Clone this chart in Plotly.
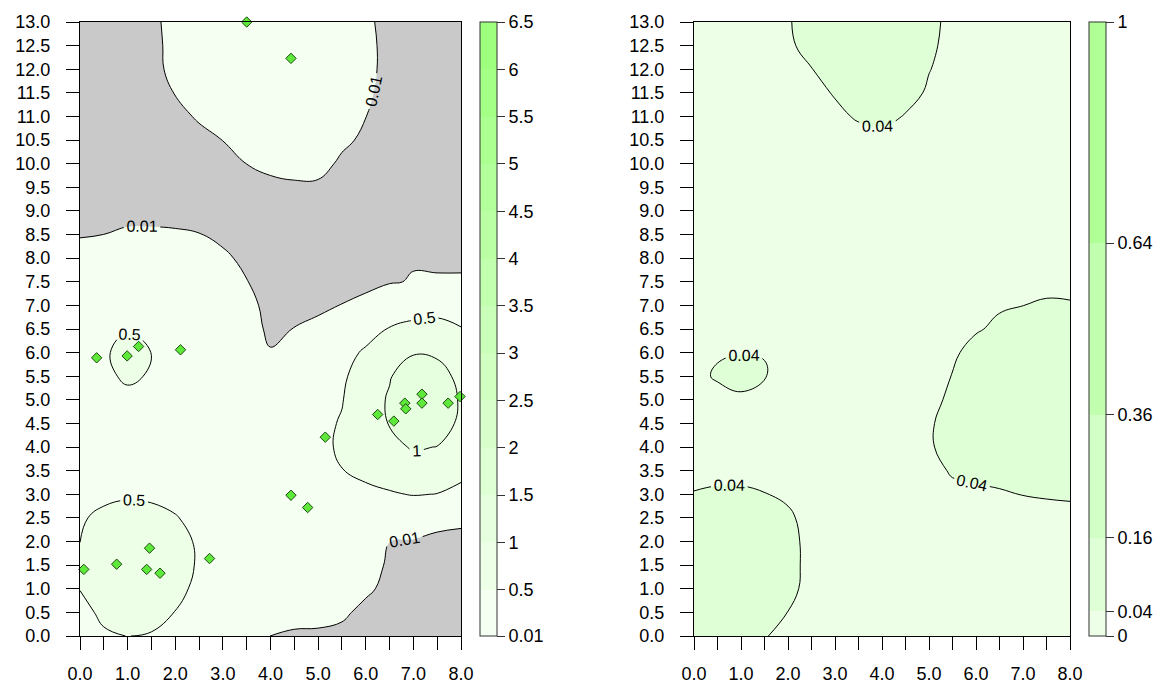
import plotly.graph_objects as go

# ---------------- data ----------------
x_grid = [0.0, 0.5, 1.0, 1.5, 2.0, 2.5, 3.0, 3.5, 4.0, 4.5, 5.0, 5.5, 6.0, 6.5, 7.0, 7.5, 8.0]
y_grid_desc = [13.0, 12.5, 12.0, 11.5, 11.0, 10.5, 10.0, 9.5, 9.0, 8.5, 8.0, 7.5, 7.0, 6.5,
               6.0, 5.5, 5.0, 4.5, 4.0, 3.5, 3.0, 2.5, 2.0, 1.5, 1.0, 0.5, 0.0]

# left panel surface (rows from y=13 down to y=0)
left_z_rows = [
    [0, 0, 0, 0, .025, .06, .10, .12, .12, .10, .07, .04, .016, 0, 0, 0, 0],
    [0, 0, 0, 0, .021, .06, .10, .13, .13, .12, .08, .05, .019, 0, 0, 0, 0],
    [0, 0, 0, 0, .019, .05, .09, .12, .12, .11, .08, .05, .019, 0, 0, 0, 0],
    [0, 0, 0, 0, .011, .04, .07, .10, .10, .09, .07, .04, .015, 0, 0, 0, 0],
    [0, 0, 0, 0, 0, .014, .045, .07, .08, .07, .05, .03, .0104, 0, 0, 0, 0],
    [0, 0, 0, 0, 0, 0, .0104, .04, .05, .05, .04, .021, 0, 0, 0, 0, 0],
    [0, 0, 0, 0, 0, 0, 0, .0102, .02, .033, .03, 0, 0, 0, 0, 0, 0],
    [0, 0, 0, 0, 0, 0, 0, 0, 0, 0, 0, 0, 0, 0, 0, 0, 0],
    [0, 0, 0, 0, 0, 0, 0, 0, 0, 0, 0, 0, 0, 0, 0, 0, 0],
    [0, .0101, .015, .015, .0135, .011, 0, 0, 0, 0, 0, 0, 0, 0, 0, 0, 0],
    [.071, .08, .10, .10, .09, .07, .018, 0, 0, 0, 0, 0, 0, 0, 0, 0, 0],
    [.12, .13, .15, .15, .14, .12, .06, .011, 0, 0, 0, 0, 0, 0, .018, .016, .016],
    [.17, .18, .20, .20, .19, .16, .09, .02, 0, 0, 0, .011, .021, .125, .25, .30, .30],
    [.20, .25, .42, .30, .22, .16, .08, .033, 0, .011, .023, .05, .15, .54, .65, .68, .52],
    [.25, .35, .90, .49, .35, .22, .13, .06, .013, .04, .08, .20, .62, .85, .97, .93, .82],
    [.22, .30, .65, .42, .28, .20, .15, .12, .10, .12, .20, .42, .75, .97, 1.25, 1.18, .88],
    [.20, .22, .25, .24, .20, .17, .14, .13, .14, .20, .32, .48, .80, 1.044, 1.35, 1.30, .95],
    [.20, .21, .22, .21, .19, .17, .15, .15, .17, .24, .40, .53, .78, 1.02, 1.30, 1.22, .915],
    [.22, .24, .25, .24, .21, .18, .16, .16, .20, .28, .40, .556, .72, .88, 1.04, .99, .80],
    [.25, .28, .30, .28, .24, .20, .18, .18, .22, .30, .38, .49, .62, .70, .79, .76, .60],
    [.35, .40, .45, .42, .35, .28, .22, .20, .22, .28, .30, .32, .38, .46, .52, .49, .40],
    [.45, .60, .66, .64, .53, .35, .27, .22, .20, .22, .22, .20, .18, .15, .10, .025, .018],
    [.495, .75, .82, .80, .66, .44, .30, .22, .16, .14, .12, .10, .07, .0105, 0, 0, 0],
    [.62, .86, .92, .90, .72, .445, .30, .20, .14, .10, .08, .06, .04, 0, 0, 0, 0],
    [.51, .80, .85, .82, .62, .40, .25, .17, .12, .09, .07, .05, .0167, 0, 0, 0, 0],
    [.38, .58, .66, .64, .491, .32, .22, .14, .08, .035, .03, .0167, 0, 0, 0, 0, 0],
    [.30, .45, .505, .47, .35, .24, .15, .06, .009, 0, 0, 0, 0, 0, 0, 0, 0],
]

# right panel surface (rows from y=13 down to y=0)
right_z_rows = [
    [.022, .024, .026, .030, .035, .066, .070, .072, .070, .064, .050, .030, .026, .024, .022, .022, .022],
    [.022, .024, .026, .030, .034, .052, .065, .070, .068, .060, .046, .030, .026, .024, .022, .022, .022],
    [.022, .024, .025, .028, .032, .039, .056, .065, .065, .055, .041, .030, .026, .024, .022, .022, .022],
    [.022, .023, .024, .026, .029, .032, .042, .055, .058, .051, .036, .030, .026, .024, .022, .022, .022],
    [.022, .023, .024, .025, .027, .030, .034, .043, .050, .038, .032, .028, .025, .024, .022, .022, .022],
    [.022, .022, .023, .024, .025, .026, .028, .030, .028, .028, .027, .026, .025, .024, .023, .022, .022],
    [.022, .022, .022, .023, .024, .025, .026, .027, .027, .027, .026, .025, .025, .024, .024, .024, .024],
    [.022, .022, .022, .023, .023, .024, .025, .025, .025, .025, .025, .025, .025, .025, .025, .025, .025],
    [.022, .022, .022, .022, .023, .023, .024, .024, .024, .025, .025, .025, .026, .026, .026, .026, .026],
    [.023, .022, .022, .022, .022, .023, .023, .024, .024, .025, .025, .026, .027, .027, .028, .028, .028],
    [.024, .023, .022, .022, .022, .022, .023, .023, .024, .025, .026, .027, .028, .029, .030, .030, .030],
    [.025, .024, .023, .022, .022, .022, .022, .023, .024, .025, .026, .028, .030, .031, .032, .033, .033],
    [.026, .025, .024, .023, .022, .022, .022, .023, .024, .026, .028, .030, .033, .036, .0398, .043, .042],
    [.027, .026, .025, .024, .023, .023, .023, .024, .025, .027, .030, .033, .036, .048, .055, .058, .058],
    [.033, .038, .039, .0395, .030, .026, .025, .026, .027, .029, .031, .033, .055, .065, .070, .070, .068],
    [.034, .0425, .050, .041, .032, .028, .026, .026, .027, .028, .030, .041, .058, .070, .075, .075, .072],
    [.030, .032, .0348, .033, .030, .027, .026, .026, .026, .027, .030, .047, .062, .072, .078, .078, .075],
    [.028, .028, .029, .029, .028, .027, .026, .026, .027, .029, .036, .053, .065, .073, .077, .077, .074],
    [.030, .030, .030, .030, .029, .028, .027, .027, .028, .030, .036, .053, .063, .070, .073, .073, .070],
    [.034, .033, .033, .032, .031, .030, .029, .028, .029, .030, .032, .0425, .055, .060, .062, .062, .060],
    [.041, .044, .044, .0409, .0345, .031, .029, .028, .028, .029, .031, .034, .028, .0337, .041, .043, .045],
    [.050, .055, .056, .053, .0455, .028, .026, .025, .025, .025, .025, .025, .025, .025, .026, .028, .0283],
    [.055, .060, .062, .060, .052, .028, .025, .024, .023, .023, .023, .023, .023, .023, .023, .023, .023],
    [.057, .062, .064, .062, .053, .028, .024, .022, .021, .021, .021, .021, .021, .021, .021, .021, .021],
    [.056, .060, .062, .058, .050, .028, .024, .022, .020, .020, .020, .020, .020, .020, .020, .020, .020],
    [.054, .056, .057, .050, .0396, .028, .024, .021, .020, .020, .020, .020, .020, .020, .020, .020, .020],
    [.050, .052, .050, .042, .030, .026, .023, .021, .020, .020, .020, .020, .020, .020, .020, .020, .020],
]

# sample points (left panel)
point_x = [3.50, 4.43, 0.35, 0.99, 1.23, 2.11, 0.08, 0.77, 1.40, 1.46, 1.68, 2.72,
           4.43, 4.78, 5.15, 6.25, 6.59, 6.82, 6.84, 7.18, 7.18, 7.73, 7.98]
point_y = [13.00, 12.23, 5.89, 5.93, 6.13, 6.06, 1.41, 1.52, 1.41, 1.86, 1.33, 1.64,
           2.98, 2.72, 4.21, 4.69, 4.55, 4.93, 4.81, 5.12, 4.93, 4.93, 5.07]

left_levels = [0.01, 0.5, 1.0, 1.5, 2.0, 2.5, 3.0, 3.5, 4.0, 4.5, 5.0, 5.5, 6.0, 6.5]
left_tick_text = ["0.01", "0.5", "1", "1.5", "2", "2.5", "3", "3.5", "4", "4.5", "5", "5.5", "6", "6.5"]
right_levels = [0, 0.04, 0.16, 0.36, 0.64, 1]
right_tick_text = ["0", "0.04", "0.16", "0.36", "0.64", "1"]
gray_limit = 0.01

x_tick_vals = [0.0, 0.5, 1.0, 1.5, 2.0, 2.5, 3.0, 3.5, 4.0, 4.5, 5.0, 5.5, 6.0, 6.5, 7.0, 7.5, 8.0]
x_tick_text = ["0.0", "", "1.0", "", "2.0", "", "3.0", "", "4.0", "", "5.0", "", "6.0", "", "7.0", "", "8.0"]

# ---------------- styles ----------------
left_colors = ["#F5FFF2", "#EDFFE7", "#E6FFDE", "#DFFFD5", "#D8FFCB", "#D1FFC2", "#CAFFB9",
               "#C2FFAF", "#BBFFA5", "#B3FF9B", "#ACFF91", "#A4FF87", "#9DFF7D"]
right_colors = ["#EEFFE8", "#DFFFD6", "#D1FFC5", "#C1FFAE", "#B0FF96"]
GRAY = "#C9C9C9"
FONT = "Liberation Sans, Arial, sans-serif"

y_grid = y_grid_desc[::-1]
left_z = left_z_rows[::-1]
right_z = right_z_rows[::-1]


def stepped_scale(levels, colors):
    lo, hi = levels[0], levels[-1]
    scale = []
    for i, c in enumerate(colors):
        a = (levels[i] - lo) / (hi - lo)
        b = (levels[i + 1] - lo) / (hi - lo)
        scale += [[a, c], [b, c]]
    return scale


n_left = len(left_colors) - 1
left_fill_scale = [[k / n_left, c] for k, c in enumerate(left_colors)]

fig = go.Figure()

label_font = dict(family=FONT, size=16, color="black")

# left: banded fill
fig.add_trace(go.Contour(
    x=x_grid, y=y_grid, z=left_z, xaxis="x", yaxis="y",
    autocontour=False,
    contours=dict(start=left_levels[1], end=left_levels[-2], size=0.5,
                  coloring="fill", showlabels=True, labelfont=label_font),
    colorscale=left_fill_scale, showscale=False,
    line=dict(color="black", width=1, smoothing=1.2), hoverinfo="skip",
))
# left: region below 0.01 shaded gray (constraint keeps z > 0.01 unshaded)
fig.add_trace(go.Contour(
    x=x_grid, y=y_grid, z=left_z, xaxis="x", yaxis="y",
    contours=dict(type="constraint", operation=">", value=gray_limit,
                  showlabels=True, labelfont=label_font),
    fillcolor=GRAY, showscale=False,
    line=dict(color="black", width=1, smoothing=1.2), hoverinfo="skip",
))
# left: points
fig.add_trace(go.Scatter(
    x=point_x, y=point_y, xaxis="x", yaxis="y", mode="markers",
    marker=dict(symbol="diamond", size=8, color="#5EE83A",
                line=dict(color="#1E4A12", width=1)),
    cliponaxis=False, hoverinfo="skip", showlegend=False,
))

# right: banded fill
fig.add_trace(go.Contour(
    x=x_grid, y=y_grid, z=right_z, xaxis="x2", yaxis="y2",
    autocontour=False,
    contours=dict(start=right_levels[1], end=right_levels[2], size=right_levels[2] - right_levels[1],
                  coloring="fill", showlabels=True, labelfont=label_font),
    colorscale=[[0, right_colors[0]], [0.5, right_colors[1]], [1, right_colors[2]]],
    showscale=False,
    line=dict(color="black", width=1, smoothing=1.2), hoverinfo="skip",
))

# colour keys
H = 686.0
W = 1174.0
bar_top, bar_bot = 22, 636
bar_len = (bar_bot - bar_top) / H
bar_y = 1 - (bar_top + bar_bot) / 2 / H

tick_font = dict(family=FONT, size=18, color="black")


def key_bar(x_px, levels, texts):
    return dict(x=x_px / W, xanchor="left", y=bar_y, yanchor="middle",
                len=bar_len, lenmode="fraction", thickness=17,
                thicknessmode="pixels", xpad=0, ypad=0,
                outlinewidth=1, outlinecolor="#333333",
                tickmode="array", tickvals=levels, ticktext=texts,
                ticks="outside", ticklen=8, tickcolor="#333333",
                tickfont=tick_font)


fig.add_trace(go.Scatter(
    x=[None], y=[None], xaxis="x", yaxis="y", mode="markers", showlegend=False, hoverinfo="skip",
    marker=dict(color=[left_levels[0]], cmin=left_levels[0], cmax=left_levels[-1],
                colorscale=stepped_scale(left_levels, left_colors), showscale=True,
                colorbar=key_bar(480, left_levels, left_tick_text)),
))
fig.add_trace(go.Scatter(
    x=[None], y=[None], xaxis="x2", yaxis="y2", mode="markers", showlegend=False, hoverinfo="skip",
    marker=dict(color=[right_levels[0]], cmin=right_levels[0], cmax=right_levels[-1],
                colorscale=stepped_scale(right_levels, right_colors), showscale=True,
                colorbar=key_bar(1089, right_levels, right_tick_text)),
))

xaxis_common = dict(range=[0, 8], tickmode="array", tickvals=x_tick_vals, ticktext=x_tick_text,
                    ticks="outside", ticklen=13, tickcolor="black", showline=True, mirror=True,
                    linecolor="black", linewidth=1, showgrid=False, zeroline=False,
                    tickfont=tick_font, ticklabelstandoff=8, fixedrange=True, automargin=False)
yaxis_common = dict(range=[0, 13], tickmode="linear", tick0=0, dtick=0.5, tickformat=".1f",
                    ticks="outside", ticklen=13, tickcolor="black", showline=True, mirror=True,
                    linecolor="black", linewidth=1, showgrid=False, zeroline=False,
                    tickfont=tick_font, ticklabelstandoff=12, fixedrange=True, automargin=False,
                    domain=[(H - bar_bot) / H, (H - bar_top) / H])

fig.update_layout(
    width=1174, height=686, autosize=False,
    margin=dict(l=0, r=0, t=0, b=0, autoexpand=False),
    paper_bgcolor="white", plot_bgcolor="white",
    showlegend=False,
    xaxis=dict(domain=[80 / W, 461 / W], anchor="y", **xaxis_common),
    yaxis=dict(anchor="x", **yaxis_common),
    xaxis2=dict(domain=[694 / W, 1070 / W], anchor="y2", **xaxis_common),
    yaxis2=dict(anchor="x2", **yaxis_common),
    font=dict(family=FONT, color="black"),
)

fig.write_html(
    "out.html",
    config={"displayModeBar": False, "staticPlot": True},
    post_script="document.body.style.margin='0px';document.body.style.padding='0px';"
                "document.documentElement.style.overflow='hidden';",
)
